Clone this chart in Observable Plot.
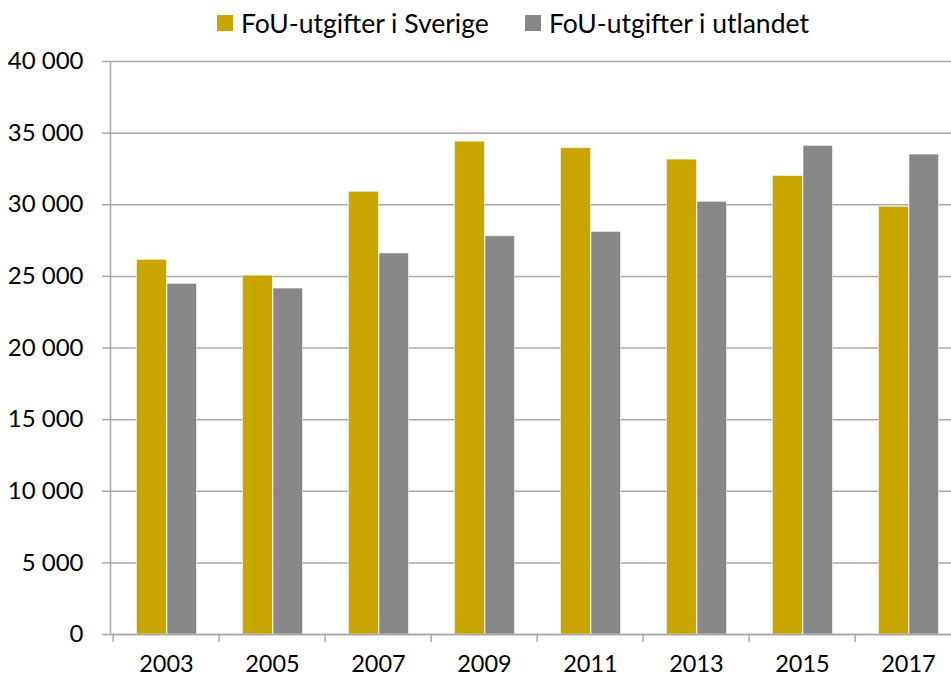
<!DOCTYPE html>
<html>
<head>
<meta charset="utf-8">
<script src="https://cdn.jsdelivr.net/npm/d3@7"></script>
<script src="https://cdn.jsdelivr.net/npm/@observablehq/plot@0.6"></script>
<style>
  html, body { margin: 0; padding: 0; background: #fff; }
  #wrap { width: 951px; height: 677px; overflow: hidden; position: relative; font-family: Lato, sans-serif; }
  #legend { height: 44px; position: relative; font-size: 26.5px; color: #000; }
  .item { position: absolute; top: 7px; display: flex; align-items: center; white-space: nowrap; }
  .sw { width: 16px; height: 16px; margin-right: 8px; display: inline-block; }
</style>
</head>
<body>
<div id="wrap">
  <div id="legend"></div>
  <div id="chart"></div>
</div>
<script>
const years = ["2003", "2005", "2007", "2009", "2011", "2013", "2015", "2017"];
const seriesNames = ["FoU-utgifter i Sverige", "FoU-utgifter i utlandet"];
const sverige = [26150, 25050, 30900, 34400, 33950, 33150, 32000, 29850];
const utlandet = [24470, 24150, 26600, 27800, 28100, 30200, 34100, 33500];
const colors = ["#C9A500", "#878787"];
const yTicks = [0, 5000, 10000, 15000, 20000, 25000, 30000, 35000, 40000];

const dataSv = years.map((y, i) => ({year: y, value: sverige[i]}));
const dataUt = years.map((y, i) => ({year: y, value: utlandet[i]}));

// Legend
const legend = document.getElementById("legend");
const legendLeft = [217, 525];
seriesNames.forEach((name, i) => {
  const it = document.createElement("div");
  it.className = "item";
  it.style.left = legendLeft[i] + "px";
  it.innerHTML = `<span class="sw" style="background:${colors[i]}"></span><span>${name}</span>`;
  legend.appendChild(it);
});

const fmt = d => d3.format(",")(d).replace(/,/g, " ");

const chart = Plot.plot({
  width: 951,
  height: 633,
  marginLeft: 110,
  marginRight: 0,
  marginTop: 17,
  marginBottom: 43,
  style: {fontFamily: "Lato, sans-serif", fontSize: "24px", color: "#000", background: "#fff", overflow: "hidden"},
  x: {domain: years, range: [110, 963.6], padding: 0},
  y: {domain: [0, 40000]},
  marks: [
    Plot.gridY(yTicks, {stroke: "#a8a8a8", strokeOpacity: 1, strokeWidth: 1.5}),
    Plot.barY(dataSv, {x: "year", y: "value", fill: colors[0], insetLeft: 23.5, insetRight: 52.5, stroke: "#fff", strokeOpacity: 0.5, strokeWidth: 1}),
    Plot.barY(dataUt, {x: "year", y: "value", fill: colors[1], insetLeft: 54, insetRight: 22.5, stroke: "#fff", strokeOpacity: 0.5, strokeWidth: 1}),
    Plot.ruleY([0], {stroke: "#a8a8a8", strokeWidth: 1.5}),
    Plot.frame({anchor: "left", stroke: "#a8a8a8", strokeWidth: 1.5}),
    Plot.axisY({ticks: yTicks, tickFormat: fmt, tickSize: 8, tickPadding: 19, stroke: "#a8a8a8", strokeWidth: 1.5, label: null, fill: "#000"}),
    Plot.axisX({tickSize: 0, tickPadding: 21, label: null, fill: "#000", fontSize: 23.5}),
    Plot.axisX({tickSize: 8, tickFormat: () => "", dx: -53.35, stroke: "#a8a8a8", strokeWidth: 1.5, label: null})
  ]
});
document.getElementById("chart").appendChild(chart);
</script>
</body>
</html>
